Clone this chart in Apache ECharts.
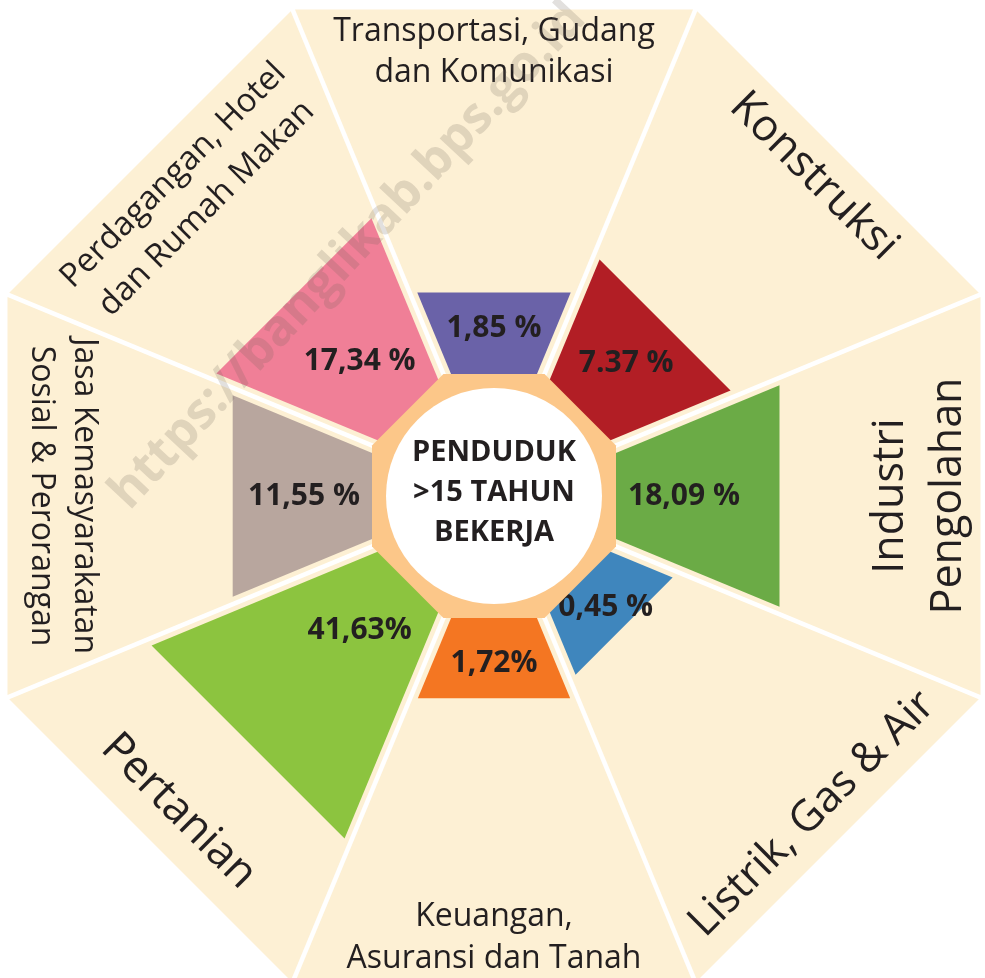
<!DOCTYPE html>
<html>
<head>
<meta charset="utf-8">
<title>Penduduk >15 Tahun Bekerja</title>
<script src="https://cdn.jsdelivr.net/npm/echarts@6/dist/echarts.min.js"></script>
<style>
  html, body { margin: 0; padding: 0; background: #fff; }
  #chart { width: 985px; height: 978px; }
</style>
</head>
<body>
<div id="chart"></div>
<script>
// lapangan usaha, searah jarum jam mulai dari atas
const sectors = [
  'Transportasi, Gudang\ndan Komunikasi',
  'Konstruksi',
  'Industri\nPengolahan',
  'Listrik, Gas & Air',
  'Keuangan,\nAsuransi dan Tanah',
  'Pertanian',
  'Jasa Kemasyarakatan\nSosial & Perorangan',
  'Perdagangan, Hotel\ndan Rumah Makan'
];
const shares = [1.85, 7.37, 18.09, 0.45, 1.72, 41.63, 11.55, 17.34];
const shareLabels = ['1,85 %', '7.37 %', '18,09 %', '0,45 %', '1,72%', '41,63%', '11,55 %', '17,34 %'];
const sectorColors = ['#6a62a8', '#b21e25', '#6bab46', '#3f86bd', '#f47622', '#8cc43f', '#b8a69e', '#f07f97'];

// tata letak
const CX = 494, CY = 496;
const OUTER = 486.5;      // apotema segi delapan luar
const HUB = 122;          // apotema segi delapan oranye
const HUB_CIRCLE = 108;
const T = Math.tan(Math.PI / 8);
const C = Math.cos(Math.PI / 8);
const FONT = '"Open Sans", "Noto Sans", sans-serif';

// gaya nama sektor: rotasi (derajat), jarak dari pusat, ukuran, tinggi baris
const nameStyles = [
  {rot: 0, dist: 444, size: 32, lh: 41},
  {rot: -45, dist: 452, size: 44, lh: 50},
  {rot: 90, dist: 426, size: 43, lh: 58},
  {rot: 45, dist: 450, size: 43, lh: 50},
  {rot: 0, dist: 442, size: 32, lh: 42},
  {rot: -45, dist: 446, size: 44, lh: 50},
  {rot: -90, dist: 431, size: 32, lh: 43},
  {rot: 45, dist: 430, size: 33, lh: 47}
];

const chart = echarts.init(document.getElementById('chart'));

function renderSector(params, api) {
  const cs = params.coordSys;
  const i = params.dataIndex;
  // panjang baji: skala akar dari persentase
  const tip = api.coord([Math.sqrt(api.value(0)), api.value(1)]);
  const dx = tip[0] - cs.cx, dy = tip[1] - cs.cy;
  const d = Math.sqrt(dx * dx + dy * dy);
  const ux = dx / d, uy = dy / d;
  const vx = -uy, vy = ux;
  const P = (a, b) => [cs.cx + ux * a + vx * b, cs.cy + uy * a + vy * b];
  const half = (a, inset) => a * T - inset / C;

  const gap = 2.3, inset = 7, inner = 70;
  const apex = gap / (C * T);
  const bg = [P(apex, 0), P(OUTER, half(OUTER, gap)), P(OUTER, -half(OUTER, gap))];
  const wedge = [P(inner, half(inner, inset)), P(d, half(d, inset)), P(d, -half(d, inset)), P(inner, -half(inner, inset))];

  const labDist = Math.min((HUB + d) / 2 + 5, 190);
  const lab = P(labDist, 0);
  const ns = nameStyles[i];
  const np = P(ns.dist, 0);

  return {
    type: 'group',
    children: [
      {type: 'polygon', shape: {points: bg}, style: {fill: '#fdf0d4'}},
      {type: 'polygon', shape: {points: wedge}, style: {fill: sectorColors[i]}},
      {
        type: 'text', x: lab[0], y: lab[1],
        style: {
          text: shareLabels[i], fill: '#231f20', fontSize: 30, fontWeight: 'bold',
          fontFamily: FONT, align: 'center', verticalAlign: 'middle'
        }
      },
      {
        type: 'text', x: np[0], y: np[1], rotation: ns.rot * Math.PI / 180,
        style: {
          text: sectors[i], fill: '#231f20', fontSize: ns.size, lineHeight: ns.lh,
          fontFamily: FONT, align: 'center', verticalAlign: 'middle'
        }
      }
    ]
  };
}

const hubPoints = [];
for (let k = 0; k < 8; k++) {
  const a = Math.PI / 8 + k * Math.PI / 4;
  hubPoints.push([CX + HUB / C * Math.cos(a), CY + HUB / C * Math.sin(a)]);
}

const option = {
  animation: false,
  backgroundColor: '#fff',
  polar: {
    center: [CX, CY],
    radius: [165, 335]
  },
  angleAxis: {
    type: 'category',
    data: sectors,
    startAngle: 112.5,
    clockwise: true,
    show: false,
    axisLine: {show: false},
    axisTick: {show: false},
    axisLabel: {show: false},
    splitLine: {show: false}
  },
  radiusAxis: {
    type: 'value',
    min: 0,
    max: 6,
    show: false,
    axisLine: {show: false},
    axisTick: {show: false},
    axisLabel: {show: false},
    splitLine: {show: false}
  },
  series: [{
    type: 'custom',
    coordinateSystem: 'polar',
    renderItem: renderSector,
    encode: {radius: 0, angle: 1},
    data: shares.map((v, i) => [v, i])
  }],
  graphic: [
    {type: 'polygon', z: 50, shape: {points: hubPoints}, style: {fill: '#fcc789'}},
    {type: 'circle', z: 51, shape: {cx: CX, cy: CY, r: HUB_CIRCLE}, style: {fill: '#fff'}},
    {
      type: 'text', z: 52, x: CX, y: CY - 3,
      style: {
        text: 'PENDUDUK\n>15 TAHUN\nBEKERJA', fill: '#231f20', fontSize: 29, fontWeight: 'bold',
        lineHeight: 40, fontFamily: FONT, align: 'center', verticalAlign: 'middle'
      }
    },
    {
      type: 'text', z: 60, x: 348, y: 256, rotation: 47 * Math.PI / 180,
      style: {
        text: 'https://banglikab.bps.go.id', fill: 'rgba(110,100,90,0.2)', fontSize: 50,
        fontWeight: 'bold', fontFamily: FONT, align: 'center', verticalAlign: 'middle'
      }
    }
  ]
};

chart.setOption(option);
</script>
</body>
</html>
